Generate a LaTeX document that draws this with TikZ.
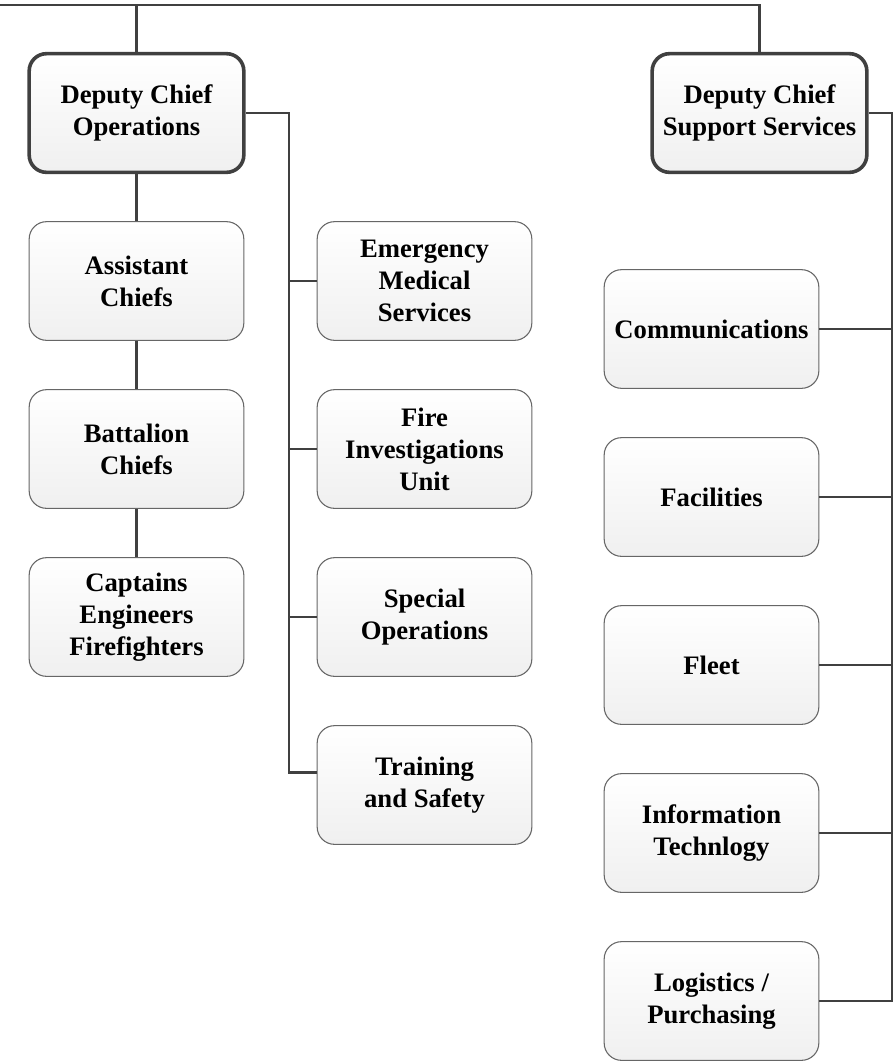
\documentclass[tikz,border=0pt]{standalone}
\usepackage{fontspec}
\setmainfont{Liberation Serif}

\begin{document}
\begin{tikzpicture}[x=0.75pt, y=-0.75pt,
		box/.style={draw=black!60, line width=.8pt, rounded corners=13pt,
			top color=white, bottom color=black!6,
			minimum width=161pt, minimum height=89pt, inner sep=2pt, align=center,
			font=\fontsize{20}{24}\selectfont\bfseries},
		chief/.style={box, draw=black!75, line width=2.7pt},
		link/.style={draw=black!75, line width=2pt}]
		\useasboundingbox (0, 0) rectangle (894, 1064);

		\node[chief] (dco) at (136.5, 113) {Deputy Chief\\Operations};
		\node[chief] (dcs) at (759.5, 113) {Deputy Chief\\Support Services};

		\node[box] (asst) at (136.5, 281) {Assistant\\Chiefs};
		\node[box] (batt) at (136.5, 449) {Battalion\\Chiefs};
		\node[box] (capt) at (136.5, 617) {Captains\\Engineers\\Firefighters};

		\node[box] (ems) at (424.5, 281) {Emergency\\Medical\\Services};
		\node[box] (fiu) at (424.5, 449) {Fire\\Investigations\\Unit};
		\node[box] (spec) at (424.5, 617) {Special\\Operations};
		\node[box] (train) at (424.5, 785) {Training\\ and Safety};

		\node[box] (comm) at (711.5, 329) {Communications};
		\node[box] (fac) at (711.5, 497) {Facilities};
		\node[box] (fleet) at (711.5, 665) {Fleet};
		\node[box] (it) at (711.5, 833) {Information\\Technlogy};
		\node[box] (log) at (711.5, 1001) {Logistics /\\Purchasing};

		\coordinate (top) at (0, 5);
		\coordinate (opsbus) at (289, 113);
		\coordinate (supbus) at (892, 113);
		\coordinate (trainin) at ([yshift=9.5pt]train.west);

		\draw[link] (top) -- (dcs.north |- top) -- (dcs.north);
		\draw[link] (dco.north) -- (dco.north |- top);

		\draw[link] (dco.south) -- (asst.north);
		\draw[link] (asst.south) -- (batt.north);
		\draw[link] (batt.south) -- (capt.north);

		\draw[link] (dco.east) -- (opsbus) -- (opsbus |- trainin) -- (trainin);
		\foreach \n in {ems, fiu, spec}
			\draw[link] (\n.west) -- (\n.west -| opsbus);

		\draw[link] (dcs.east) -- (supbus) -- (supbus |- log.east) -- (log.east);
		\foreach \n in {comm, fac, fleet, it}
			\draw[link] (\n.east) -- (\n.east -| supbus);
\end{tikzpicture}
\end{document}
